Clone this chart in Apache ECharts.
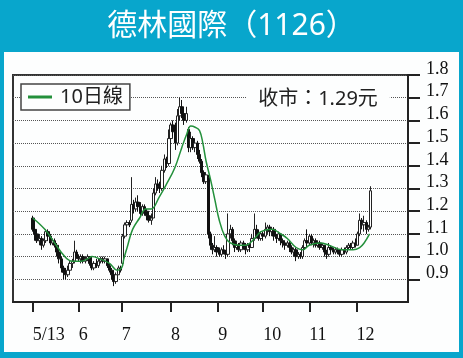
<!DOCTYPE html>
<html lang="zh-Hant"><head><meta charset="utf-8">
<script src="https://cdn.jsdelivr.net/npm/echarts@6/dist/echarts.min.js"></script>
<style>html,body{margin:0;padding:0;background:#08a6cc;}#c{width:463px;height:358px;}</style>
</head><body><div id="c"></div>
<script>
// Tick labels and their positions (trading-day index)
const tickLabels = ['5/13','6','7','8','9','10','11','12'];
const tickPos = [0, 21, 40.5, 63, 84.5, 105, 126, 147.5];
const yTicks = [0.9,1.0,1.1,1.2,1.3,1.4,1.5,1.6,1.7,1.8];
// Daily candles [open, close, low, high]
const ohlc = [
[1.17,1.12,1.11,1.18],[1.12,1.10,1.07,1.13],[1.10,1.07,1.06,1.11],[1.07,1.08,1.05,1.10],[1.08,1.05,1.03,1.09],
[1.05,1.07,1.04,1.08],[1.07,1.11,1.06,1.12],[1.11,1.09,1.07,1.12],[1.09,1.06,1.05,1.10],[1.06,1.07,1.05,1.08],
[1.07,1.05,1.04,1.08],[1.05,1.02,1.00,1.06],[1.02,0.99,0.97,1.03],[0.99,0.95,0.93,1.00],[0.95,0.93,0.90,0.96],
[0.93,0.92,0.90,0.95],[0.92,0.94,0.91,0.96],[0.94,0.97,0.93,0.98],[0.97,0.98,0.95,0.99],[0.98,1.02,0.97,1.07],
[1.02,1.00,0.99,1.03],[1.00,0.99,0.98,1.01],[0.99,1.00,0.97,1.01],[1.00,0.98,0.97,1.01],[0.98,0.99,0.97,1.00],
[0.99,1.00,0.98,1.01],[1.00,0.97,0.96,1.00],[0.97,0.95,0.94,0.98],[0.95,0.97,0.94,0.98],[0.97,0.96,0.95,0.99],
[0.96,0.98,0.95,0.99],[0.98,0.99,0.97,1.00],[0.99,0.98,0.97,1.00],[0.98,0.99,0.97,1.00],[0.99,0.96,0.95,0.99],
[0.96,0.94,0.93,0.97],[0.94,0.92,0.90,0.95],[0.92,0.89,0.87,0.93],[0.89,0.92,0.88,0.93],[0.92,0.95,0.92,0.96],
[0.95,0.94,0.93,0.96],[0.97,1.09,0.96,1.10],[1.09,1.14,1.08,1.15],[1.14,1.15,1.12,1.16],[1.15,1.14,1.13,1.16],
[1.16,1.23,1.15,1.35],[1.23,1.21,1.19,1.25],[1.21,1.24,1.20,1.26],[1.24,1.22,1.20,1.27],[1.22,1.19,1.18,1.24],
[1.19,1.22,1.18,1.23],[1.22,1.20,1.18,1.23],[1.20,1.18,1.16,1.21],[1.18,1.16,1.15,1.19],[1.16,1.17,1.14,1.19],
[1.17,1.28,1.17,1.30],[1.28,1.32,1.27,1.35],[1.32,1.31,1.29,1.34],[1.31,1.30,1.28,1.33],[1.30,1.38,1.29,1.40],
[1.38,1.43,1.37,1.45],[1.43,1.41,1.39,1.44],[1.41,1.52,1.40,1.56],[1.52,1.58,1.50,1.59],[1.58,1.55,1.53,1.60],
[1.55,1.50,1.47,1.59],[1.50,1.62,1.49,1.65],[1.62,1.66,1.60,1.70],[1.66,1.63,1.61,1.69],[1.63,1.60,1.58,1.65],
[1.60,1.63,1.59,1.66],[1.56,1.48,1.46,1.57],[1.48,1.52,1.46,1.55],[1.52,1.48,1.47,1.53],[1.48,1.50,1.46,1.51],
[1.50,1.45,1.43,1.51],[1.45,1.42,1.41,1.47],[1.42,1.37,1.35,1.43],[1.37,1.33,1.32,1.38],[1.33,1.36,1.32,1.37],
[1.35,1.10,1.08,1.36],[1.10,1.05,1.03,1.11],[1.05,1.03,1.01,1.06],[1.03,1.04,1.02,1.09],[1.04,1.02,1.00,1.05],
[1.02,1.01,1.00,1.04],[1.01,1.03,1.00,1.04],[1.03,1.02,1.01,1.05],[1.02,1.01,0.99,1.03],[1.01,1.10,1.00,1.19],
[1.10,1.12,1.08,1.14],[1.12,1.07,1.05,1.13],[1.07,1.04,1.02,1.08],[1.04,1.05,1.03,1.07],[1.05,1.03,1.02,1.06],
[1.03,1.06,1.02,1.07],[1.06,1.04,1.03,1.07],[1.04,1.03,1.01,1.06],[1.03,1.05,1.02,1.06],[1.05,1.04,1.02,1.06],
[1.04,1.08,1.04,1.10],[1.08,1.12,1.07,1.19],[1.12,1.10,1.08,1.14],[1.10,1.08,1.07,1.12],[1.08,1.10,1.07,1.11],
[1.10,1.09,1.07,1.11],[1.09,1.12,1.08,1.15],[1.12,1.13,1.10,1.14],[1.13,1.11,1.09,1.14],[1.11,1.12,1.09,1.13],
[1.12,1.09,1.07,1.13],[1.09,1.08,1.06,1.10],[1.08,1.10,1.07,1.11],[1.10,1.07,1.05,1.10],[1.07,1.06,1.04,1.08],
[1.06,1.05,1.03,1.07],[1.05,1.06,1.04,1.07],[1.06,1.04,1.02,1.07],[1.04,1.02,1.01,1.05],[1.02,1.03,1.00,1.04],
[1.03,1.00,0.98,1.04],[1.00,1.01,0.99,1.02],[1.01,1.00,0.99,1.02],[1.00,1.04,0.99,1.05],[1.04,1.07,1.03,1.08],
[1.07,1.06,1.04,1.12],[1.06,1.09,1.05,1.10],[1.09,1.06,1.05,1.10],[1.06,1.07,1.04,1.08],[1.07,1.05,1.04,1.08],
[1.05,1.06,1.04,1.07],[1.06,1.04,1.03,1.07],[1.04,1.05,1.03,1.06],[1.05,1.02,1.00,1.05],[1.02,1.01,0.99,1.03],
[1.01,1.04,1.00,1.06],[1.04,1.03,1.02,1.05],[1.03,1.02,1.01,1.04],[1.02,1.03,1.01,1.04],[1.03,1.02,1.01,1.04],
[1.02,1.01,1.00,1.03],[1.01,1.03,1.00,1.04],[1.03,1.02,1.01,1.04],[1.02,1.04,1.01,1.05],[1.04,1.05,1.03,1.06],
[1.05,1.04,1.03,1.06],[1.04,1.06,1.03,1.07],[1.06,1.05,1.04,1.08],[1.05,1.10,1.05,1.11],[1.10,1.16,1.09,1.19],
[1.16,1.14,1.12,1.17],[1.14,1.15,1.11,1.18],[1.15,1.12,1.10,1.16],[1.12,1.13,1.11,1.14],[1.13,1.29,1.12,1.31]
];
// 10-day moving average at these day indices
const maIdx = [0,5.5,10,14.6,18,22,25,27,30.5,35,38.5,40.5,41.5,43,45.5,48.7,51.5,54,57.5,61,64.7,67.9,70.2,72,74,76,77.5,79,81,83,85,87.5,90,94,97,99,102,104,109,113,116,120,123,126,131,135,141,146,149,151,153.5];
const maVal = [1.17,1.12,1.06,1.00,0.98,0.98,0.99,1.00,0.99,0.97,0.94,0.95,0.99,1.04,1.12,1.17,1.21,1.21,1.26,1.32,1.39,1.48,1.54,1.575,1.57,1.555,1.50,1.42,1.34,1.25,1.16,1.09,1.06,1.05,1.05,1.06,1.09,1.11,1.12,1.10,1.08,1.04,1.03,1.05,1.06,1.05,1.03,1.03,1.04,1.06,1.10];

const candleData = ohlc.map((d, i) => [i, d[0], d[1], d[2], d[3]]);
const maData = maIdx.map((x, i) => [x, maVal[i]]);

const chart = echarts.init(document.getElementById('c'));
const serif = '"Liberation Serif","DejaVu Serif",serif';
const cjk = '"Noto Sans","Noto Sans CJK TC",sans-serif';
chart.setOption({
  backgroundColor: '#08a6cc',
  animation: false,
  title: {
    text: '德林國際（1126）', left: 'center', top: 6,
    textStyle: {color: '#ffffff', fontSize: 30, fontWeight: 'normal', fontFamily: cjk}
  },
  graphic: [
    {type: 'rect', z: -10, shape: {x: 4, y: 52, width: 455, height: 300}, style: {fill: '#fdfefe'}},
    {type: 'text', z: 50, x: 318, y: 99, style: {text: '收市：1.29元', fill: '#222', font: '20px "Noto Sans","Noto Sans CJK TC",sans-serif', align: 'center', verticalAlign: 'middle', backgroundColor: '#fdfefe', padding: [2, 12, 2, 12]}}
  ],
  legend: {
    data: ['10日線'], left: 21, top: 84, padding: [3, 7, 3, 7],
    backgroundColor: '#fdfefe', borderColor: '#444', borderWidth: 1.5,
    icon: 'rect', itemWidth: 24, itemHeight: 3,
    textStyle: {fontSize: 20, color: '#222', fontFamily: cjk, padding: [0, 0, 0, 3]}
  },
  grid: {left: 13, top: 75, right: 55, bottom: 56, show: true, borderColor: '#333', borderWidth: 2, backgroundColor: 'transparent'},
  xAxis: {
    type: 'value', min: -9, max: 171,
    axisLine: {show: true, onZero: false, lineStyle: {color: '#222', width: 2}},
    axisTick: {show: true, customValues: tickPos, length: 10, lineStyle: {color: '#222', width: 2}},
    axisLabel: {customValues: tickPos, align: 'left', margin: 24, color: '#111', fontFamily: serif, fontSize: 18,
      formatter: v => { const k = tickPos.indexOf(v); return k >= 0 ? tickLabels[k] : ''; }},
    splitLine: {show: false}
  },
  yAxis: {
    type: 'value', position: 'right', min: 0.8, max: 1.8, interval: 0.1,
    axisLine: {show: true, onZero: false, lineStyle: {color: '#222', width: 2}},
    axisTick: {show: true, customValues: yTicks, length: 12, lineStyle: {color: '#222', width: 2}},
    axisLabel: {customValues: yTicks, margin: 18, color: '#111', fontFamily: serif, fontSize: 18,
      verticalAlign: 'bottom', lineHeight: 12,
      formatter: v => v.toFixed(1)},
    splitLine: {show: true, lineStyle: {color: '#555', width: 1, type: [1, 1]}}
  },
  series: [
    {type: 'candlestick', data: candleData, encode: {x: 0, y: [1, 2, 3, 4]}, barWidth: 3,
      itemStyle: {color: '#ffffff', color0: '#111111', borderColor: '#222222', borderColor0: '#111111', borderWidth: 1}},
    {name: '10日線', type: 'line', data: maData, smooth: 0.4, showSymbol: false, symbol: 'none',
      lineStyle: {color: '#23903b', width: 1.5}, itemStyle: {color: '#23903b'}, z: 5}
  ]
});
</script></body></html>
